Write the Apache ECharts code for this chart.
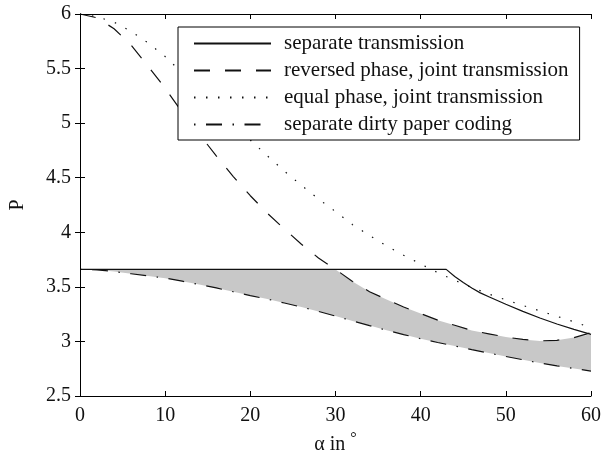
<!DOCTYPE html>
<html lang="en">
<head>
    <meta charset="UTF-8"/>
    <title>P vs alpha</title>
    <script src="https://cdn.jsdelivr.net/npm/echarts@6/dist/echarts.min.js"></script>
    <style>
        html, body { margin: 0; padding: 0; background: #fff; }
    </style>
</head>
<body>

<div id="main" style="width: 604px;height:460px;"></div>

<script type="text/javascript">
    // alpha grid (degrees)
    var alpha = [0, 2, 4, 6, 8, 10, 12, 14, 16, 18, 20, 22, 24, 26, 28, 30,
        32, 34, 36, 38, 40, 42, 44, 46, 48, 50, 52, 54, 56, 58, 60];

    // reversed phase, joint transmission
    var reversedP = [6.0, 5.965, 5.865, 5.715, 5.52, 5.32, 5.10, 4.90, 4.70, 4.51, 4.335,
        4.175, 4.03, 3.89, 3.765, 3.66, 3.55, 3.455, 3.385, 3.315, 3.255,
        3.195, 3.148, 3.10, 3.07, 3.04, 3.018, 3.005, 3.01, 3.035, 3.08];

    // equal phase, joint transmission
    var equalP = [6.0, 5.975, 5.925, 5.84, 5.735, 5.61, 5.46, 5.30, 5.145, 4.99, 4.845,
        4.70, 4.56, 4.43, 4.305, 4.19, 4.07, 3.97, 3.875, 3.79, 3.71,
        3.63, 3.56, 3.495, 3.435, 3.38, 3.33, 3.28, 3.23, 3.18, 3.125];

    // separate dirty paper coding
    var dpcP = [3.66, 3.656, 3.64, 3.62, 3.60, 3.58, 3.552, 3.522, 3.49, 3.455, 3.42,
        3.388, 3.352, 3.315, 3.275, 3.232, 3.188, 3.145, 3.103, 3.063, 3.025,
        2.99, 2.958, 2.925, 2.893, 2.862, 2.832, 2.802, 2.776, 2.752, 2.728];

    // separate transmission (own x points, kink near 43)
    var sepX = [0, 43, 44, 45, 46, 47, 48, 50, 52, 54, 56, 58, 60];
    var sepP = [3.66, 3.66, 3.595, 3.54, 3.49, 3.445, 3.41, 3.34, 3.275, 3.215, 3.16, 3.11, 3.065];

    var xTicks = {min: 0, max: 60, interval: 10};
    var yTicks = {min: 2.5, max: 6, interval: 0.5};

    var names = ['separate transmission', 'reversed phase, joint transmission',
        'equal phase, joint transmission', 'separate dirty paper coding'];

    function pairs(xs, ys) {
        return xs.map(function (x, i) { return [x, ys[i]]; });
    }

    function sepAt(x) {
        if (x <= 43) return sepP[0];
        return sepP[sepX.indexOf(x)];
    }

    // upper edge of the grey band: the lower of separate / reversed phase
    var bandTop = alpha.map(function (x, i) {
        return Math.min(sepAt(x), reversedP[i]);
    });

    var font = 'Liberation Serif';
    var ink = '#111';

    var myChart = echarts.init(document.getElementById('main'));

    var axisLine = {show: true, lineStyle: {color: '#000', width: 1}};
    var tick = {inside: true, length: 5, lineStyle: {color: '#000'}};

    var option = {
        animation: false,
        backgroundColor: '#fff',
        grid: {left: 76, right: 11, top: 14, bottom: 64},
        legend: {
            data: names,
            orient: 'vertical',
            left: 178,
            top: 27,
            padding: [6, 11, 5, 15],
            itemWidth: 77,
            itemHeight: 14,
            itemGap: 6,
            itemStyle: {opacity: 0},
            backgroundColor: '#fff',
            borderColor: '#000',
            borderWidth: 1,
            z: 20,
            textStyle: {fontFamily: font, fontSize: 21, color: ink, padding: [0, 0, 0, 8]}
        },
        xAxis: [{
            type: 'value', min: xTicks.min, max: xTicks.max, interval: xTicks.interval, z: 10,
            axisLine: axisLine, axisTick: tick, splitLine: {show: false},
            axisLabel: {fontFamily: font, fontSize: 20, color: ink, margin: 10},
            name: '{a|α in }{s|°}',
            nameLocation: 'middle',
            nameGap: 34,
            nameTextStyle: {
                fontFamily: font, fontSize: 20, color: ink,
                rich: {
                    a: {fontFamily: font, fontSize: 20, color: ink},
                    s: {fontFamily: font, fontSize: 16, color: ink, verticalAlign: 'top', padding: [0, 0, 12, 0]}
                }
            }
        }, {
            type: 'value', position: 'top', min: xTicks.min, max: xTicks.max, interval: xTicks.interval, z: 10,
            axisLine: axisLine, axisTick: tick, axisLabel: {show: false}, splitLine: {show: false}
        }],
        yAxis: [{
            type: 'value', min: yTicks.min, max: yTicks.max, interval: yTicks.interval, z: 10,
            axisLine: axisLine, axisTick: tick, splitLine: {show: false},
            axisLabel: {fontFamily: font, fontSize: 20, color: ink, margin: 9},
            name: 'P',
            nameLocation: 'middle',
            nameGap: 52,
            nameTextStyle: {fontFamily: font, fontSize: 20, color: ink}
        }, {
            type: 'value', position: 'right', min: yTicks.min, max: yTicks.max, interval: yTicks.interval, z: 10,
            axisLine: axisLine, axisTick: tick, axisLabel: {show: false}, splitLine: {show: false}
        }],
        series: [
            {
                // grey from the band top down to the axis
                name: 'bandTop', type: 'line', symbol: 'none',
                data: pairs(alpha, bandTop),
                lineStyle: {opacity: 0}, areaStyle: {color: '#c8c8c8', opacity: 1, origin: 'start'},
                silent: true, z: 1
            },
            {
                // white below the dirty paper coding curve
                name: 'bandBase', type: 'line', symbol: 'none',
                data: pairs(alpha, dpcP),
                lineStyle: {opacity: 0}, areaStyle: {color: '#fff', opacity: 1, origin: 'start'},
                silent: true, z: 2
            },
            {
                name: names[0], type: 'line', symbol: 'none', z: 3,
                data: pairs(sepX, sepP),
                itemStyle: {color: ink},
                lineStyle: {color: ink, width: 1.2}
            },
            {
                name: names[1], type: 'line', symbol: 'none', z: 3,
                data: pairs(alpha, reversedP),
                itemStyle: {color: ink},
                lineStyle: {color: ink, width: 1.2, type: [16, 15]}
            },
            {
                name: names[2], type: 'line', symbol: 'none', z: 3,
                data: pairs(alpha, equalP),
                itemStyle: {color: ink},
                lineStyle: {color: ink, width: 1.2, type: [1.5, 10.5]}
            },
            {
                name: names[3], type: 'line', symbol: 'none', z: 3,
                data: pairs(alpha, dpcP),
                itemStyle: {color: ink},
                lineStyle: {color: ink, width: 1.2, type: [1.5, 10.5, 16, 10.5]}
            }
        ]
    };

    myChart.setOption(option);
</script>
</body>
</html>
